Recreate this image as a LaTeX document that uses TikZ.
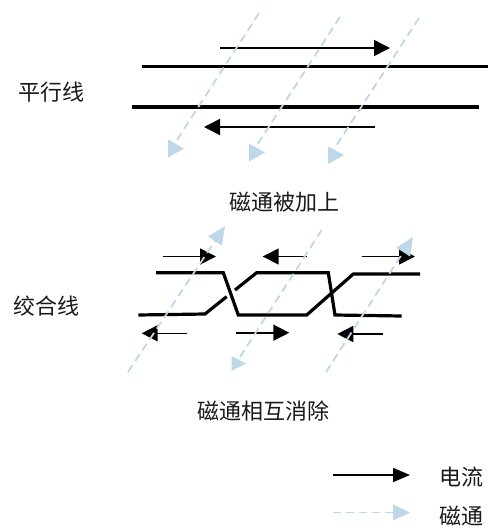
\documentclass[tikz,border=0pt]{standalone}
\usepackage{fontspec}
\setmainfont{Noto Sans CJK SC}
\usetikzlibrary{arrows.meta}
\definecolor{flux}{RGB}{190,216,232}
\definecolor{ink}{RGB}{25,25,25}
\begin{document}
\begin{tikzpicture}[x=1pt,y=-1pt,
  wire/.style={line width=3.2pt},
  cur/.style={line width=1.6pt,-{Triangle[length=16pt,width=16pt]}},
  fluxline/.style={draw=flux,line width=1.8pt,dash pattern=on 8pt off 5pt},
  fluxarrow/.style={fluxline,-{Triangle[length=18pt,width=16pt,fill=flux]}},
  fluxtip/.style={fill=flux},
  lbl/.style={font=\fontsize{22}{24}\selectfont,text=ink,inner sep=0pt}]
\useasboundingbox (0,0) rectangle (490,531);

% ---------- parallel pair ----------
\coordinate (pa1) at (142,66.7);  \coordinate (pb1) at (488,66.7);
\coordinate (pa2) at (132,107);   \coordinate (pb2) at (479,107);
\draw[wire] (pa1) -- (pb1);
\draw[wire] (pa2) -- (pb2);

\coordinate (ia1) at (220,48);  \coordinate (ib1) at (390,48);
\coordinate (ia2) at (375,127); \coordinate (ib2) at (204,127);
\draw[cur] (ia1) -- (ib1);
\draw[cur] (ia2) -- (ib2);

% flux lines through the parallel pair
\coordinate (fa1) at (259,13);  \coordinate (fb1) at (177,140);
\coordinate (fa2) at (340,17);  \coordinate (fb2) at (257,145);
\coordinate (fa3) at (419,18);  \coordinate (fb3) at (334,149);
\draw[fluxline] (fa1) -- (fb1);
\draw[fluxline] (fa2) -- (fb2);
\draw[fluxline] (fa3) -- (fb3);
\fill[fluxtip] (168,139.5) -- (168,157.5) -- (184,148.5) -- cycle;
\fill[fluxtip] (249,143.5) -- (249,161.5) -- (265,152.5) -- cycle;
\fill[fluxtip] (328,146.5) -- (328,164) -- (344,155) -- cycle;

\node[lbl] (par) at (51.7,92.5) {平行线};
\node[lbl] (add) at (284,201.7) {磁通被加上};

% ---------- twisted pair ----------
\draw[wire] (156,272.7) -- (223.3,272.7) -- (238.3,315) -- (306.7,315)
            -- (353.3,274) -- (420,274);
\draw[wire] (138.3,315) -- (205,314) -- (226.7,296.6);
\draw[wire] (235,290) -- (256.7,272.7) -- (328.3,272.7) -- (335,315) -- (401.7,316);

\coordinate (ta1) at (162.7,256.5); \coordinate (tb1) at (216,256.5);
\coordinate (ta2) at (306.7,256.5); \coordinate (tb2) at (262.7,256.5);
\coordinate (ta3) at (361.7,256.5); \coordinate (tb3) at (415,256.5);
\coordinate (ta4) at (186.7,333.3); \coordinate (tb4) at (141.7,333.3);
\coordinate (ta5) at (236,332.7);   \coordinate (tb5) at (289.3,332.7);
\coordinate (ta6) at (383.3,334);   \coordinate (tb6) at (337.3,334);
\foreach \i in {1,...,6} \draw[cur] (ta\i) -- (tb\i);

% flux lines through the twisted pair
\coordinate (ga1) at (128,372);   \coordinate (gb1) at (225,226);
\coordinate (ga2) at (321.7,230); \coordinate (gb2) at (240,357);
\coordinate (ga3) at (326,372);   \coordinate (gb3) at (413,237);
\draw[fluxarrow] (ga1) -- (gb1);
\draw[fluxline] (ga2) -- (gb2);
\fill[fluxtip] (231.5,356) -- (231.5,371) -- (246,363.5) -- cycle;
\draw[fluxarrow] (ga3) -- (gb3);

\node[lbl] (tw) at (46,306) {绞合线};
\node[lbl] (cancel) at (263.3,411.3) {磁通相互消除};

% ---------- legend ----------
\coordinate (la1) at (333,475);   \coordinate (lb1) at (410,475);
\draw[line width=1.6pt,-{Triangle[length=17pt,width=14pt]}] (la1) -- (lb1);
\coordinate (la2) at (333,512.5); \coordinate (lb2) at (393,512.5);
\draw[fluxline] (la2) -- (lb2);
\fill[fluxtip] (393,504.5) -- (393,520.5) -- (410,512.5) -- cycle;
\node[lbl] (lcur) at (461.7,477) {电流};
\node[lbl] (lflux) at (461.7,516) {磁通};
\end{tikzpicture}
\end{document}
